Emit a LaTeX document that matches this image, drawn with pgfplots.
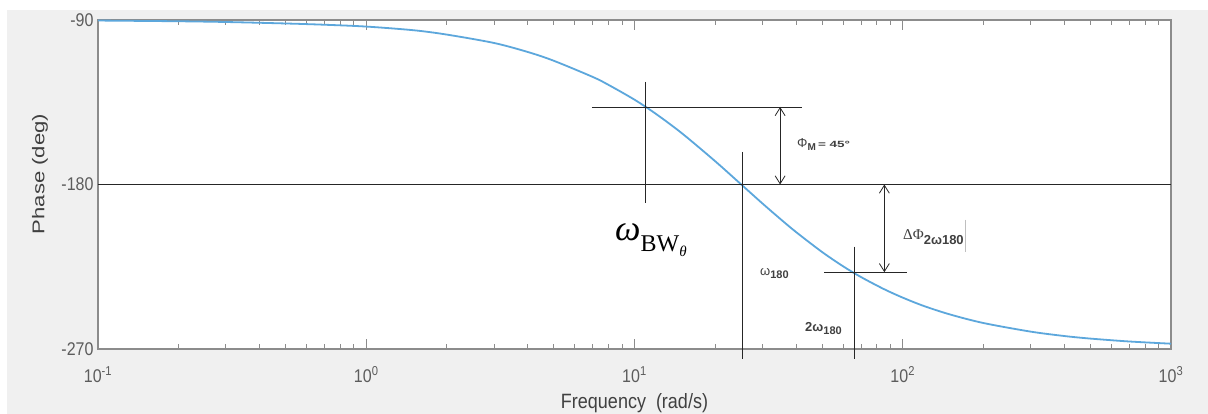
\documentclass[border=0pt]{standalone}
\usepackage{pgfplots}
\pgfplotsset{compat=1.18}
\usepackage{fontspec}
\setmainfont{Liberation Sans}
\newfontfamily\serif{Liberation Serif}
\usetikzlibrary{arrows.meta}
\definecolor{bg}{HTML}{F0F0F0}
\definecolor{curve}{RGB}{92,167,220}
\definecolor{axgray}{HTML}{8C8C8C}
\definecolor{txtgray}{HTML}{5C5C5C}
\definecolor{labgray}{HTML}{404040}
\definecolor{anngray}{HTML}{404040}
\newcommand\tl[1]{\scalebox{1}[1.15]{#1}}
\begin{document}
\begin{tikzpicture}[x=1pt,y=1pt]
\useasboundingbox (0,0) rectangle (1208,414);
\fill[white] (0,0) rectangle (1208,414);
\fill[bg] (7,0) rectangle (1208,404);
\begin{axis}[
  at={(98pt,65pt)}, anchor=south west,
  scale only axis, width=1073pt, height=329pt,
  xmode=log, xmin=0.1, xmax=1000, ymin=-270, ymax=-90,
  axis background/.style={fill=white},
  axis line style={axgray, line width=1.4pt},
  xtick={0.1,1,10,100,1000},
  xticklabels={\tl{10\textsuperscript{-1}},\tl{10\textsuperscript{0}},\tl{10\textsuperscript{1}},\tl{10\textsuperscript{2}},\tl{10\textsuperscript{3}}},
  minor xtick={0.2,0.3,0.4,0.5,0.6,0.7,0.8,0.9,2,3,4,5,6,7,8,9,20,30,40,50,60,70,80,90,200,300,400,500,600,700,800,900},
  ytick={-270,-180,-90}, yticklabels={\tl{-270},\tl{-180},\tl{-90}},
  tick style={axgray, line width=1pt},
  major tick length=10pt, minor tick length=5pt,
  tick align=inside, xtick pos=both, ytick pos=both,
  ticklabel style={txtgray, font=\fontsize{16}{19}\selectfont},
  xticklabel style={yshift=-14pt},
  yticklabel style={xshift=-1pt},
  clip=false,
]
\addplot[curve, line width=1.8pt, smooth] coordinates {
(0.1,-90.3) (0.2,-90.7) (0.3,-91.1) (0.5,-91.9) (0.7,-92.6) (1,-93.6)
(1.5,-95.6) (2,-98.0) (3,-102.6) (4,-107.5) (5,-112.3) (7,-121.2)
(8,-125.5) (10,-133.6) (12,-141.3) (15,-151.9) (20,-167.3) (25,-180)
(30,-190.4) (35,-198.9) (40,-206.0) (50,-216.9) (60,-224.8) (70,-230.7)
(85,-237.2) (100,-241.9) (120,-246.5) (150,-251.1) (200,-255.8)
(300,-260.5) (400,-262.9) (500,-264.3) (700,-265.9) (1000,-267.1)
};
\draw[black!85, line width=0.8pt] (axis cs:0.1,-180) -- (axis cs:1000,-180);
\draw[black!85, line width=0.8pt] (axis cs:10.94,-123.9) -- (axis cs:10.94,-190.1);
\draw[black!85, line width=0.8pt] (axis cs:6.94,-137.6) -- (axis cs:42.1,-137.6);
\draw[black!85, line width=0.8pt, {Straight Barb[length=8pt,width=10pt]}-{Straight Barb[length=8pt,width=10pt]}] (axis cs:34.9,-137.6) -- (axis cs:34.9,-180);
\draw[black!85, line width=0.8pt] (axis cs:25.2,-162.2) -- (axis cs:25.2,-275.5);
\draw[black!85, line width=0.8pt] (axis cs:65.8,-214.0) -- (axis cs:65.8,-275.5);
\draw[black!85, line width=0.8pt] (axis cs:50.9,-228) -- (axis cs:103.7,-228);
\draw[black!85, line width=0.8pt, {Straight Barb[length=8pt,width=10pt]}-{Straight Barb[length=8pt,width=10pt]}] (axis cs:85.4,-180) -- (axis cs:85.4,-228);
\end{axis}
% axis labels
\node[rotate=90, text=labgray, font=\fontsize{17}{20}\selectfont] at (40,240) {\scalebox{1.3}[1]{Phase (deg)}};
\node[anchor=base, inner sep=0pt, text=labgray, font=\fontsize{18}{22}\selectfont] at (634.5,5) {\tl{Frequency\ \ (rad/s)}};
% annotations
\node[anchor=base west, inner sep=0pt, text=anngray] at (797,266) {\fontsize{13}{15}\selectfont Φ\raisebox{-2.5pt}{\fontsize{10}{12}\selectfont\bfseries M}\,\scalebox{1.5}[1]{\fontsize{9}{11}\selectfont\bfseries = 45°}};
\node[anchor=base west, inner sep=0pt, text=black] at (615,173) {\serif\fontsize{36}{40}\selectfont\itshape ω\raisebox{-11pt}{\upshape\fontsize{24}{28}\selectfont BW\raisebox{-5pt}{\itshape\fontsize{15}{18}\selectfont θ}}};
\node[anchor=base west, inner sep=0pt, text=anngray] at (760,138) {\fontsize{13}{15}\selectfont ω\raisebox{-3pt}{\fontsize{11}{13}\selectfont\bfseries 180}};
\node[anchor=base west, inner sep=0pt, text=anngray] at (805,82) {\fontsize{13}{15}\selectfont\bfseries 2ω\raisebox{-3pt}{\fontsize{11}{13}\selectfont\bfseries 180}};
\node[anchor=base west, inner sep=0pt, text=anngray] at (903,174) {{\serif\fontsize{15}{17}\selectfont ΔΦ}\raisebox{-5pt}{\fontsize{13}{15}\selectfont\bfseries 2ω180}};
\draw[black!25, line width=0.6pt] (965,194) -- (965,162);
\end{tikzpicture}
\end{document}
